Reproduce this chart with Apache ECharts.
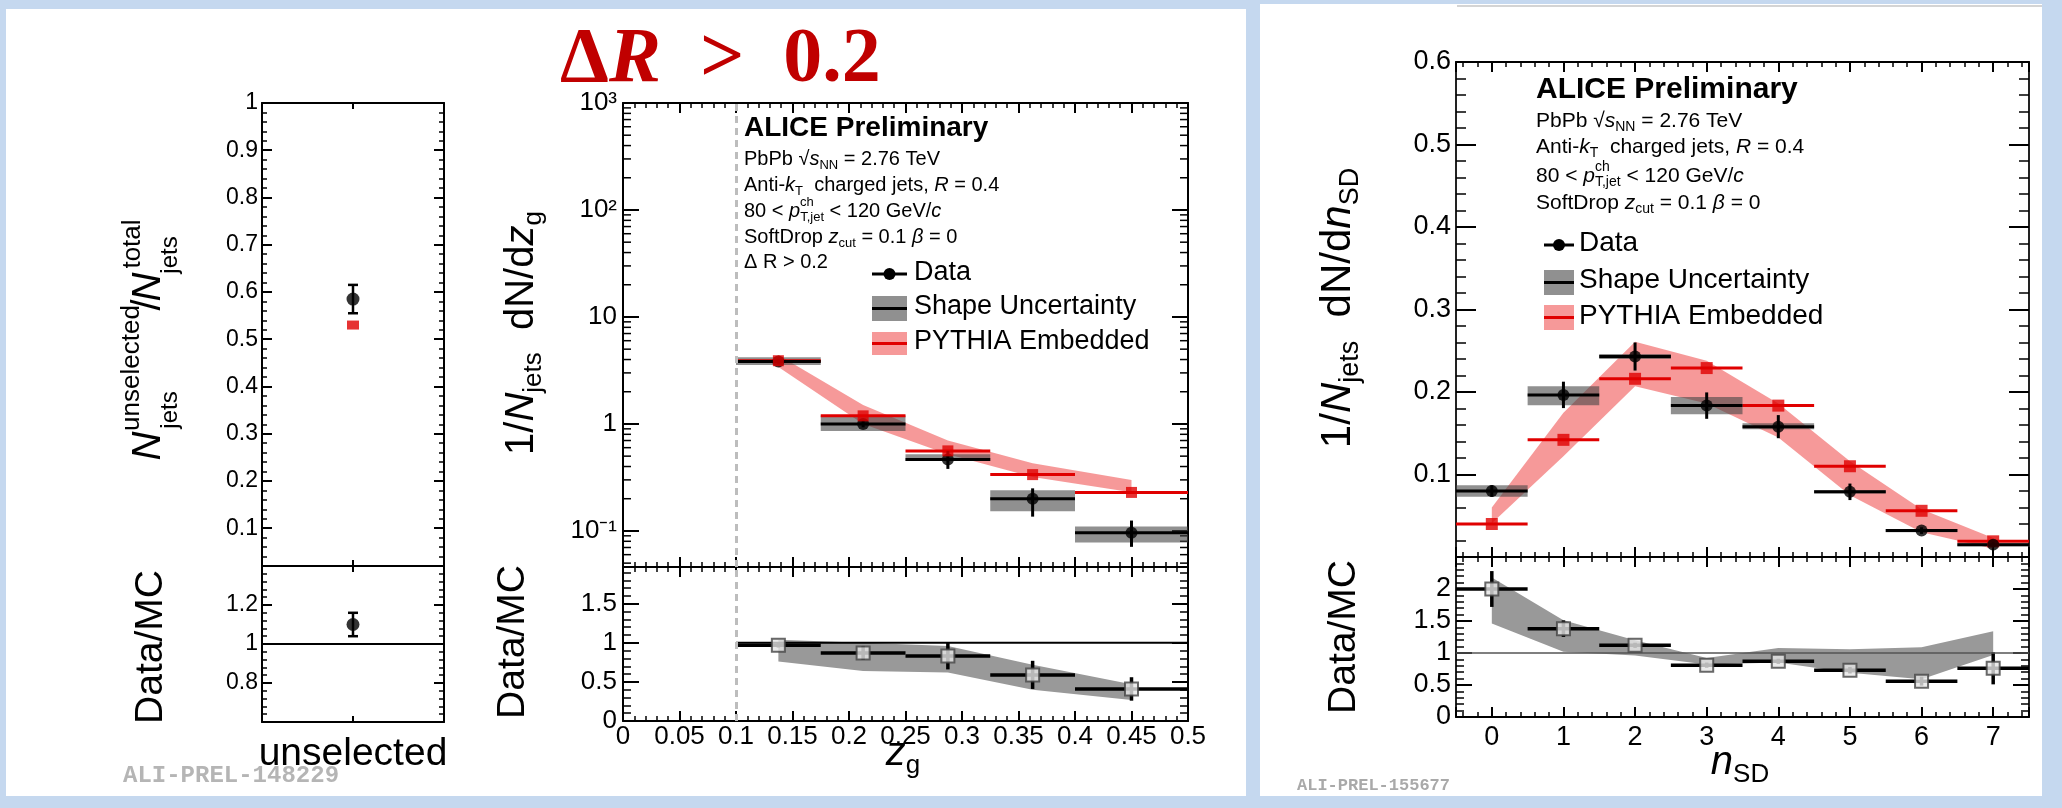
<!DOCTYPE html>
<html>
<head>
<meta charset="utf-8">
<title>ALICE Preliminary - zg and nSD</title>
<script src="https://cdn.jsdelivr.net/npm/echarts@6/dist/echarts.min.js"></script>
<style>
  html, body { margin: 0; padding: 0; background: #c5d8ef; }
  #chart { width: 2062px; height: 808px; }
</style>
</head>
<body>
<div id="chart"></div>
<script>
// ---------------- data ----------------
// left: fraction of unselected jets
const unselCat = ['unselected'];
const unselFrac = [0.585];
const unselFracErr = [0.03];
const unselPythia = [0.53];
const unselRatio = [1.10];
const unselRatioErr = [0.06];

// middle: z_g, Delta R > 0.2
const zgLo = [0.1, 0.175, 0.25, 0.325, 0.4];
const zgHi = [0.175, 0.25, 0.325, 0.4, 0.5];
const zgMid = [0.1375, 0.2125, 0.2875, 0.3625, 0.45];
const zgData = [3.83, 1.0, 0.465, 0.2, 0.096];
const zgDataLo = [3.65, 0.93, 0.38, 0.136, 0.071];
const zgDataHi = [4.02, 1.08, 0.56, 0.25, 0.125];
const zgSysLo = [3.55, 0.86, 0.45, 0.153, 0.078];
const zgSysHi = [4.2, 1.2, 0.52, 0.24, 0.11];
const zgPythia = [3.9, 1.19, 0.56, 0.336, 0.229];
const zgPythiaLo = [3.4, 1.0, 0.52, 0.32, 0.23];
const zgPythiaHi = [4.4, 1.5, 0.70, 0.43, 0.30];
const zgRatio = [0.97, 0.87, 0.83, 0.59, 0.41];
const zgRatioErr = [0.03, 0.09, 0.17, 0.18, 0.15];
const zgRatioSysLo = [0.76, 0.64, 0.62, 0.40, 0.27];
const zgRatioSysHi = [1.04, 1.0, 0.96, 0.72, 0.47];

// right: n_SD
const nsd = [0, 1, 2, 3, 4, 5, 6, 7];
const nsdLo = [-0.5, 0.5, 1.5, 2.5, 3.5, 4.5, 5.5, 6.5];
const nsdHi = [0.5, 1.5, 2.5, 3.5, 4.5, 5.5, 6.5, 7.5];
const nsdData = [0.080, 0.1965, 0.243, 0.1835, 0.158, 0.079, 0.032, 0.015];
const nsdDataErr = [0.007, 0.016, 0.017, 0.016, 0.014, 0.01, 0.004, 0.003];
const nsdSysLo = [0.073, 0.184, 0.240, 0.173, 0.155, 0.077, 0.030, 0.013];
const nsdSysHi = [0.087, 0.207, 0.246, 0.194, 0.162, 0.081, 0.034, 0.017];
const nsdPythia = [0.040, 0.142, 0.216, 0.229, 0.1835, 0.110, 0.056, 0.019];
const nsdPythiaLo = [0.041, 0.122, 0.207, 0.186, 0.145, 0.075, 0.030, 0.010];
const nsdPythiaHi = [0.060, 0.175, 0.261, 0.238, 0.186, 0.116, 0.058, 0.023];
const nsdRatio = [2.0, 1.38, 1.12, 0.81, 0.87, 0.73, 0.56, 0.76];
const nsdRatioErr = [0.28, 0.13, 0.04, 0.04, 0.04, 0.05, 0.07, 0.25];
const nsdRatioSysLo = [1.46, 1.02, 0.96, 0.82, 0.85, 0.69, 0.59, 0.97];
const nsdRatioSysHi = [2.18, 1.51, 1.2, 0.92, 1.08, 1.06, 1.09, 1.34];

// ---------------- style ----------------
const SANS = "'Liberation Sans', Arial, Helvetica, sans-serif";
const SERIF = "'Liberation Serif', 'DejaVu Serif', serif";
const MONO = "'Liberation Mono', 'DejaVu Sans Mono', monospace";
const RED = '#e00000';
const BAND_RED = 'rgba(238,70,70,0.55)';
const SYS_GRAY = 'rgba(70,70,70,0.6)';
const RATIO_GRAY = '#999999';

// minor ticks of the log axis (2..9 in every decade)
const logMin = 0.046, logMax = 1000;
const logMinor = [];
for (let e = -2; e <= 2; e++) {
  for (let m = 2; m <= 9; m++) {
    const v = m * Math.pow(10, e);
    if (v > logMin && v < logMax) logMinor.push(v);
  }
}

function fmtNum(v) { return String(Math.round(v * 1000) / 1000); }
const SUP = { '-': '\u207B', '0': '\u2070', '1': '\u00B9', '2': '\u00B2', '3': '\u00B3' };
function logFmt(v) {
  const e = Math.round(Math.log10(v));
  if (Math.abs(v / Math.pow(10, e) - 1) > 1e-6) return '';
  if (e === 0) return '1';
  if (e === 1) return '10';
  return '10' + String(e).split('').map(c => SUP[c]).join('');
}

// ---------------- layout ----------------
const grids = [
  { left: 262, top: 103, width: 182, height: 463 },
  { left: 262, top: 566, width: 182, height: 156 },
  { left: 623, top: 103, width: 565, height: 464 },
  { left: 623, top: 567, width: 565, height: 154 },
  { left: 1456, top: 62, width: 573, height: 495 },
  { left: 1456, top: 557, width: 573, height: 160 }
].map(g => Object.assign({ outerBoundsMode: 'none', containLabel: false }, g));

function mkAxis(g, pos, s) {
  const ax = {
    gridIndex: g, position: pos, type: s.type || 'value',
    axisLine: { show: true, onZero: false, lineStyle: { color: s.lineColor || '#000', width: 2 } },
    axisTick: { show: true, inside: true, length: s.major, lineStyle: { color: '#000', width: 2 } },
    splitLine: { show: false },
    axisLabel: { show: false }
  };
  if (s.data) { ax.data = s.data; ax.boundaryGap = true; ax.axisTick.alignWithLabel = true; }
  if (s.min != null) ax.min = s.min;
  if (s.max != null) ax.max = s.max;
  if (s.interval != null) ax.interval = s.interval;
  if (s.splitNumber) ax.splitNumber = s.splitNumber;
  if (s.logBase) ax.logBase = s.logBase;
  if (s.minor) ax.minorTick = { show: true, splitNumber: 5, length: s.minor, lineStyle: { color: '#000', width: 1.5 } };
  if (s.label && (pos === 'left' || pos === 'bottom')) {
    ax.axisLabel = { show: true, color: '#000', fontFamily: SANS, fontSize: s.label.size, margin: s.label.margin };
    if (s.label.fmt) ax.axisLabel.formatter = s.label.fmt;
  }
  return ax;
}

const xLeft = { type: 'category', data: unselCat, major: 6 };
const xZg = { min: 0, max: 0.5, interval: 0.05, major: 10, minor: 5 };
const xNsd = { min: -0.5, max: 7.5, splitNumber: 8, major: 10, minor: 5 };

const xAxes = [
  mkAxis(0, 'bottom', xLeft), mkAxis(0, 'top', xLeft),
  mkAxis(1, 'bottom', Object.assign({ label: { size: 39, margin: 13 } }, xLeft)), mkAxis(1, 'top', xLeft),
  mkAxis(2, 'bottom', xZg), mkAxis(2, 'top', xZg),
  mkAxis(3, 'bottom', Object.assign({ label: { size: 26, margin: 3, fmt: fmtNum } }, xZg)), mkAxis(3, 'top', xZg),
  mkAxis(4, 'bottom', xNsd), mkAxis(4, 'top', xNsd),
  mkAxis(5, 'bottom', Object.assign({ label: { size: 27, margin: 7, fmt: v => Number.isInteger(v) ? String(v) : '' } }, xNsd)), mkAxis(5, 'top', xNsd)
];

const yL0 = { min: 0.02, max: 1, splitNumber: 10, major: 10, minor: 5, label: { size: 23, margin: 4, fmt: v => v < 0.05 ? '' : fmtNum(v) } };
const yL1 = { min: 0.6, max: 1.4, interval: 0.2, major: 10, minor: 5, label: { size: 23, margin: 4, fmt: v => (v > 0.7 && v < 1.3) ? fmtNum(v) : '' } };
const yM0 = { type: 'log', logBase: 10, min: logMin, max: logMax, major: 16, label: { size: 26, margin: 6, fmt: logFmt } };
const yM1 = { min: 0, max: 1.97, interval: 0.5, major: 16, minor: 8, label: { size: 26, margin: 6, fmt: v => v < 1.9 ? fmtNum(v) : '' } };
const yR0 = { min: 0, max: 0.6, interval: 0.1, major: 20, minor: 10, lineColor: '#222', label: { size: 27, margin: 5, fmt: v => v > 0.01 ? fmtNum(v) : '' } };
const yR1 = { min: 0, max: 2.5, interval: 0.5, major: 16, minor: 8, lineColor: '#222', label: { size: 27, margin: 5, fmt: v => v < 2.4 ? fmtNum(v) : '' } };

const yAxes = [
  mkAxis(0, 'left', yL0), mkAxis(0, 'right', yL0),
  mkAxis(1, 'left', yL1), mkAxis(1, 'right', yL1),
  mkAxis(2, 'left', yM0), mkAxis(2, 'right', yM0),
  mkAxis(3, 'left', yM1), mkAxis(3, 'right', yM1),
  mkAxis(4, 'left', yR0), mkAxis(4, 'right', yR0),
  mkAxis(5, 'left', yR1), mkAxis(5, 'right', yR1)
];

// ---------------- renderers ----------------
function errRender(color, lw, cap) {
  return function (params, api) {
    const x = api.value(0), y = api.value(1);
    const xl = api.value(2), xh = api.value(3), yl = api.value(4), yh = api.value(5);
    const st = { stroke: color, lineWidth: lw };
    const kids = [];
    const seg = (a, b) => kids.push({ type: 'line', shape: { x1: a[0], y1: a[1], x2: b[0], y2: b[1] }, style: st });
    if (xh > xl) seg(api.coord([xl, y]), api.coord([xh, y]));
    if (yh > yl) {
      const a = api.coord([x, yl]), b = api.coord([x, yh]);
      seg(a, b);
      if (cap) {
        seg([a[0] - cap, a[1]], [a[0] + cap, a[1]]);
        seg([b[0] - cap, b[1]], [b[0] + cap, b[1]]);
      }
    }
    return { type: 'group', children: kids };
  };
}

function boxRender(fill) {
  return function (params, api) {
    const p1 = api.coord([api.value(0), api.value(3)]);
    const p2 = api.coord([api.value(1), api.value(2)]);
    return { type: 'rect', shape: { x: p1[0], y: p1[1], width: p2[0] - p1[0], height: p2[1] - p1[1] }, style: { fill: fill } };
  };
}

function bandSeries(g, xs, lo, hi, fill, z) {
  return {
    type: 'custom', xAxisIndex: 2 * g, yAxisIndex: 2 * g, z: z, silent: true,
    data: [[xs[0], hi[0]]],
    renderItem: function (params, api) {
      const pts = [];
      xs.forEach((x, i) => pts.push(api.coord([x, hi[i]])));
      for (let i = xs.length - 1; i >= 0; i--) pts.push(api.coord([xs[i], lo[i]]));
      return { type: 'polygon', shape: { points: pts }, style: { fill: fill } };
    }
  };
}

function custom(g, data, render, z, encode) {
  return { type: 'custom', xAxisIndex: 2 * g, yAxisIndex: 2 * g, data: data, renderItem: render, z: z, silent: true, encode: encode || { x: 0, y: 1 } };
}
function markers(g, data, symbol, size, itemStyle, z, extra) {
  return Object.assign({ type: 'scatter', xAxisIndex: 2 * g, yAxisIndex: 2 * g, data: data, symbol: symbol, symbolSize: size, itemStyle: itemStyle, z: z, silent: true }, extra || {});
}
function refLine(key, val, color, width, type) {
  const d = {}; d[key] = val;
  return { silent: true, symbol: ['none', 'none'], label: { show: false }, lineStyle: { color: color, width: width, type: type || 'solid' }, data: [d], animation: false };
}

const openSquare = { color: '#e6e6e6', borderColor: '#444', borderWidth: 2 };

// ---------------- series ----------------
const series = [
  // left upper
  custom(0, unselCat.map((c, i) => [i, unselFrac[i], i, i, unselFrac[i] - unselFracErr[i], unselFrac[i] + unselFracErr[i]]), errRender('#000', 2.5, 5), 3),
  markers(0, unselCat.map((c, i) => [i, unselPythia[i]]), 'rect', [12, 9], { color: RED }, 4),
  markers(0, unselCat.map((c, i) => [i, unselFrac[i]]), 'circle', 13, { color: '#000' }, 5),
  // left lower
  custom(1, unselCat.map((c, i) => [i, unselRatio[i], i, i, unselRatio[i] - unselRatioErr[i], unselRatio[i] + unselRatioErr[i]]), errRender('#000', 2.5, 5), 3),
  markers(1, unselCat.map((c, i) => [i, unselRatio[i]]), 'circle', 13, { color: '#000' }, 5,
    { markLine: refLine('yAxis', 1, '#000', 2) }),

  // middle upper
  markers(2, [], 'none', 1, {}, 0, { markLine: refLine('xAxis', 0.1, '#bdbdbd', 3, [7, 5]) }),
  custom(2, logMinor.map(v => [0.25, v]), function (params, api) {
    const y = api.coord([0.25, api.value(1)])[1];
    const cs = params.coordSys;
    const st = { stroke: '#000', lineWidth: 1.5 };
    return { type: 'group', children: [
      { type: 'line', shape: { x1: cs.x, y1: y, x2: cs.x + 8, y2: y }, style: st },
      { type: 'line', shape: { x1: cs.x + cs.width - 8, y1: y, x2: cs.x + cs.width, y2: y }, style: st }
    ] };
  }, 1),
  bandSeries(2, zgMid, zgPythiaLo, zgPythiaHi, BAND_RED, 1),
  custom(2, zgMid.map((x, i) => [zgLo[i], zgHi[i], zgSysLo[i], zgSysHi[i]]), boxRender(SYS_GRAY), 2, { x: [0, 1], y: [2, 3] }),
  custom(2, zgMid.map((x, i) => [x, zgPythia[i], zgLo[i], zgHi[i], zgPythia[i], zgPythia[i]]), errRender(RED, 3, 0), 3),
  custom(2, zgMid.map((x, i) => [x, zgData[i], zgLo[i], zgHi[i], zgDataLo[i], zgDataHi[i]]), errRender('#000', 3, 0), 3),
  markers(2, zgMid.map((x, i) => [x, zgData[i]]), 'circle', 12, { color: '#000' }, 4),
  markers(2, zgMid.map((x, i) => [x, zgPythia[i]]), 'rect', 11, { color: RED }, 5),

  // middle lower
  markers(3, [], 'none', 1, {}, 0, { markLine: refLine('xAxis', 0.1, '#bdbdbd', 3, [7, 5]) }),
  bandSeries(3, zgMid, zgRatioSysLo, zgRatioSysHi, RATIO_GRAY, 1),
  { type: 'line', xAxisIndex: 6, yAxisIndex: 6, data: [[zgLo[0], 1], [zgHi[zgHi.length - 1], 1]], symbol: 'none', silent: true, z: 2,
    lineStyle: { color: '#000', width: 2 } },
  custom(3, zgMid.map((x, i) => [x, zgRatio[i], zgLo[i], zgHi[i], zgRatio[i] - zgRatioErr[i], zgRatio[i] + zgRatioErr[i]]), errRender('#000', 3.5, 0), 3),
  markers(3, zgMid.map((x, i) => [x, zgRatio[i]]), 'rect', 13, openSquare, 5),

  // right upper
  bandSeries(4, nsd, nsdPythiaLo, nsdPythiaHi, BAND_RED, 1),
  custom(4, nsd.map((x, i) => [nsdLo[i], nsdHi[i], nsdSysLo[i], nsdSysHi[i]]), boxRender(SYS_GRAY), 2, { x: [0, 1], y: [2, 3] }),
  custom(4, nsd.map((x, i) => [x, nsdPythia[i], nsdLo[i], nsdHi[i], nsdPythia[i], nsdPythia[i]]), errRender(RED, 3, 0), 3),
  custom(4, nsd.map((x, i) => [x, nsdData[i], nsdLo[i], nsdHi[i], nsdData[i] - nsdDataErr[i], nsdData[i] + nsdDataErr[i]]), errRender('#000', 3, 0), 3),
  markers(4, nsd.map((x, i) => [x, nsdPythia[i]]), 'rect', 12, { color: RED }, 4),
  markers(4, nsd.map((x, i) => [x, nsdData[i]]), 'circle', 12, { color: '#000' }, 5),

  // right lower
  bandSeries(5, nsd, nsdRatioSysLo, nsdRatioSysHi, RATIO_GRAY, 1),
  custom(5, nsd.map((x, i) => [x, nsdRatio[i], nsdLo[i], nsdHi[i], nsdRatio[i] - nsdRatioErr[i], nsdRatio[i] + nsdRatioErr[i]]), errRender('#000', 3.5, 0), 3),
  markers(5, nsd.map((x, i) => [x, nsdRatio[i]]), 'rect', 13, openSquare, 5,
    { markLine: refLine('yAxis', 1, '#555', 1.5) })
];

// ---------------- texts ----------------
function richSet(F, f, family, color) {
  const T = Math.round(F * 0.2), LH = Math.round(F * 1.45);
  const base = (size, pad, extra) => Object.assign({ fontSize: size, lineHeight: LH, padding: [pad, 0, 0, 0], verticalAlign: 'top', fontFamily: family, fill: color }, extra);
  return {
    T: T,
    rich: {
      n: base(F, T, {}),
      i: base(F, T, { fontStyle: 'italic' }),
      b: base(f, Math.round(T + F - 0.8 * f), {}),
      p: base(f, Math.max(0, Math.round(T + 0.35 * F - 0.8 * f)), {})
    }
  };
}
function txt(x, y, text, o) {
  const style = {
    text: text, fill: o.color || '#000', fontSize: o.size, fontFamily: o.family || SANS,
    fontWeight: o.weight || 'normal', fontStyle: o.fstyle || 'normal',
    align: o.align || 'left', verticalAlign: o.va || 'middle'
  };
  if (o.rich) style.rich = o.rich;
  return { type: 'text', x: x, y: y, rotation: o.rot || 0, z: o.z == null ? 100 : o.z, silent: true, style: style };
}
// horizontal rich line, main text centred on cy, starting at x
function richH(x, cy, F, f, text, align) {
  const r = richSet(F, f, SANS, '#000');
  return txt(x, cy - r.T - F / 2, text, { size: F, rich: r.rich, va: 'top', align: align || 'left' });
}
// rotated (reading upwards) rich line, main text centred on (cx, cy)
function richV(cx, cy, F, f, text) {
  const r = richSet(F, f, SANS, '#000');
  return txt(cx - r.T - F / 2, cy, text, { size: F, rich: r.rich, va: 'top', align: 'center', rot: Math.PI / 2 });
}
function vtxt(cx, cy, text, size, fstyle) {
  return txt(cx, cy, text, { size: size, align: 'center', va: 'middle', rot: Math.PI / 2, fstyle: fstyle });
}
function legendRow(x, y0, w, h, kind, label, size, tx, ty) {
  const out = [];
  const cy = y0 + h / 2;
  if (kind === 'data') {
    out.push({ type: 'line', shape: { x1: x, y1: cy, x2: x + w, y2: cy }, style: { stroke: '#000', lineWidth: 3 }, z: 100, silent: true });
    out.push({ type: 'circle', shape: { cx: x + w / 2, cy: cy, r: 6 }, style: { fill: '#000' }, z: 100, silent: true });
  } else {
    out.push({ type: 'rect', shape: { x: x, y: y0, width: w, height: h }, style: { fill: kind === 'sys' ? SYS_GRAY : BAND_RED }, z: 100, silent: true });
    out.push({ type: 'line', shape: { x1: x, y1: cy, x2: x + w, y2: cy }, style: { stroke: kind === 'sys' ? '#000' : RED, lineWidth: 3 }, z: 100, silent: true });
  }
  out.push(txt(tx, ty, label, { size: size }));
  return out;
}

const elements = [
  // panels
  { type: 'rect', shape: { x: 6, y: 9, width: 1240, height: 787 }, style: { fill: '#fff' }, z: -10, silent: true },
  { type: 'rect', shape: { x: 1260, y: 4, width: 782, height: 792 }, style: { fill: '#fff' }, z: -10, silent: true },
  { type: 'line', shape: { x1: 1457, y1: 6, x2: 2042, y2: 6 }, style: { stroke: '#d4d4d4', lineWidth: 2 }, z: -9, silent: true },

  // big title
  txt(560, 61, '{d|\u0394}{r|R}{n|  >  0.2}', {
    size: 78, family: SERIF, color: '#c00000', rich: {
      d: { fontSize: 78, fontFamily: SERIF, fontWeight: 'bold', fill: '#c00000' },
      r: { fontSize: 78, fontFamily: SERIF, fontWeight: 'bold', fontStyle: 'italic', fill: '#c00000' },
      n: { fontSize: 78, fontFamily: SERIF, fontWeight: 'bold', fill: '#c00000' }
    }
  }),

  // left panel axis titles
  vtxt(149, 446, 'N', 40, 'italic'),
  vtxt(132, 368, 'unselected', 26),
  vtxt(170, 410, 'jets', 24),
  vtxt(149, 305, '/', 40),
  vtxt(149, 287, 'N', 40, 'italic'),
  vtxt(133, 244, 'total', 26),
  vtxt(170, 255, 'jets', 24),
  vtxt(151, 647, 'Data/MC', 39),
  txt(123, 776, 'ALI-PREL-148229', { size: 24, family: MONO, weight: 'bold', color: '#b5b5b5', z: -5 }),

  // middle panel axis titles
  richV(522, 333, 40, 26, '{n|1/}{i|N}{b|jets}{n|  dN/d}{i|z}{b|g}'),
  vtxt(513, 642, 'Data/MC', 39),
  richH(903, 754, 40, 26, '{i|z}{b|g}', 'center'),

  // middle panel labels
  txt(744, 128, 'ALICE Preliminary', { size: 28, weight: 'bold' }),
  richH(744, 159, 20, 13, '{n|PbPb }{n|\u221A}{i|s}{b|NN}{n| = 2.76 TeV}'),
  richH(744, 185, 20, 13, '{n|Anti-}{i|k}{b|T}{n|  charged jets, }{i|R}{n| = 0.4}'),
  richH(744, 211, 20, 13, '{n|80 < }{i|p}{b|T,jet}{n| < 120 GeV/}{i|c}'),
  txt(800, 202, 'ch', { size: 13 }),
  richH(744, 237, 20, 13, '{n|SoftDrop }{i|z}{b|cut}{n| = 0.1 }{i|\u03B2}{n| = 0}'),
  richH(744, 262, 20, 13, '{n|\u0394 R > 0.2}'),

  // right panel axis titles
  richV(1338, 308, 42, 27, '{n|1/}{i|N}{b|jets}{n|  dN/d}{i|n}{b|SD}'),
  vtxt(1344, 637, 'Data/MC', 39),
  richH(1740, 763, 40, 26, '{i|n}{b|SD}', 'center'),
  txt(1297, 786, 'ALI-PREL-155677', { size: 17, family: MONO, weight: 'bold', color: '#a9a9a9', z: -5 }),

  // right panel labels
  txt(1536, 90, 'ALICE Preliminary', { size: 30, weight: 'bold' }),
  richH(1536, 121, 21, 14, '{n|PbPb }{n|\u221A}{i|s}{b|NN}{n| = 2.76 TeV}'),
  richH(1536, 147, 21, 14, '{n|Anti-}{i|k}{b|T}{n|  charged jets, }{i|R}{n| = 0.4}'),
  richH(1536, 176, 21, 14, '{n|80 < }{i|p}{b|T,jet}{n| < 120 GeV/}{i|c}'),
  txt(1595, 167, 'ch', { size: 14 }),
  richH(1536, 203, 21, 14, '{n|SoftDrop }{i|z}{b|cut}{n| = 0.1 }{i|\u03B2}{n| = 0}')
]
  .concat(legendRow(872, 262, 35, 24, 'data', 'Data', 27, 914, 273))
  .concat(legendRow(872, 296, 35, 25, 'sys', 'Shape Uncertainty', 27, 914, 307))
  .concat(legendRow(872, 332, 35, 23, 'band', 'PYTHIA Embedded', 27, 914, 342))
  .concat(legendRow(1544, 233, 30, 24, 'data', 'Data', 28, 1579, 243))
  .concat(legendRow(1544, 270, 30, 25, 'sys', 'Shape Uncertainty', 28, 1579, 280))
  .concat(legendRow(1544, 305, 30, 25, 'band', 'PYTHIA Embedded', 28, 1579, 316));

const option = {
  backgroundColor: '#c5d8ef',
  animation: false,
  grid: grids,
  xAxis: xAxes,
  yAxis: yAxes,
  series: series,
  graphic: { elements: elements }
};

const chart = echarts.init(document.getElementById('chart'), null, { renderer: 'canvas' });
chart.setOption(option);
</script>
</body>
</html>
